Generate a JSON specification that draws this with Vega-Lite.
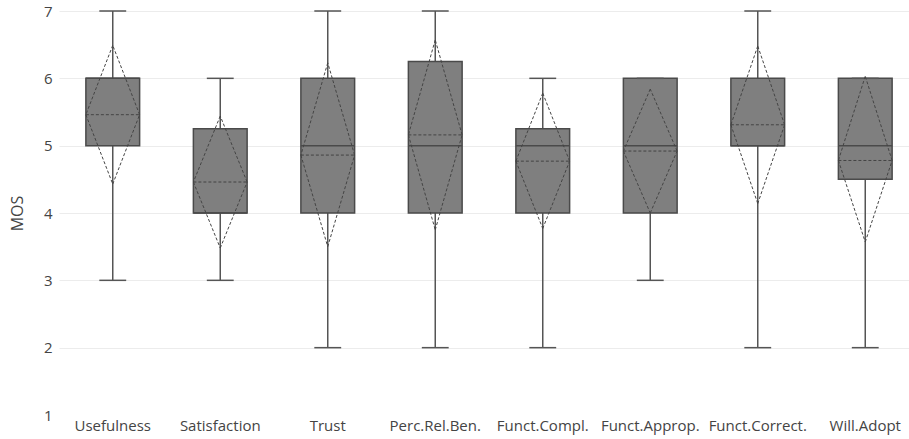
{
  "$schema": "https://vega.github.io/schema/vega-lite/v6.json",
  "autosize": {"type": "none"},
  "width": 850,
  "height": 404,
  "padding": {"left": 59, "top": 11, "right": 0, "bottom": 24},
  "background": "white",
  "config": {
    "view": {"stroke": null},
    "font": "Open Sans",
    "axis": {"labelFont": "Open Sans", "titleFont": "Open Sans", "labelColor": "#444", "titleColor": "#444"}
  },
  "data": {
    "values": [
      {"cat": "Usefulness", "lo": 3, "q1": 5, "med": 6, "q3": 6, "hi": 7, "mean": 5.46, "sdlo": 4.43, "sdhi": 6.49},
      {"cat": "Satisfaction", "lo": 3, "q1": 4, "med": 4, "q3": 5.25, "hi": 6, "mean": 4.46, "sdlo": 3.48, "sdhi": 5.44},
      {"cat": "Trust", "lo": 2, "q1": 4, "med": 5, "q3": 6, "hi": 7, "mean": 4.86, "sdlo": 3.5, "sdhi": 6.23},
      {"cat": "Perc.Rel.Ben.", "lo": 2, "q1": 4, "med": 5, "q3": 6.25, "hi": 7, "mean": 5.16, "sdlo": 3.75, "sdhi": 6.57},
      {"cat": "Funct.Compl.", "lo": 2, "q1": 4, "med": 5, "q3": 5.25, "hi": 6, "mean": 4.77, "sdlo": 3.77, "sdhi": 5.78},
      {"cat": "Funct.Approp.", "lo": 3, "q1": 4, "med": 5, "q3": 6, "hi": 6, "mean": 4.92, "sdlo": 4.0, "sdhi": 5.84},
      {"cat": "Funct.Correct.", "lo": 2, "q1": 5, "med": 5, "q3": 6, "hi": 7, "mean": 5.31, "sdlo": 4.14, "sdhi": 6.48},
      {"cat": "Will.Adopt", "lo": 2, "q1": 4.5, "med": 5, "q3": 6, "hi": 6, "mean": 4.78, "sdlo": 3.57, "sdhi": 6.03}
    ]
  },
  "encoding": {
    "x": {
      "field": "cat", "type": "nominal", "sort": null,
      "scale": {"type": "band", "paddingInner": 0, "paddingOuter": 0, "range": [0, 860]},
      "axis": {"title": null, "labelAngle": 0, "domain": false, "ticks": false, "grid": false, "labelFontSize": 15, "labelPadding": 3}
    }
  },
  "layer": [
    {
      "mark": {"type": "rule", "color": "#555", "strokeWidth": 1.5},
      "encoding": {
        "y": {"field": "lo", "type": "quantitative",
          "scale": {"domain": [1, 7], "nice": false, "zero": false},
          "axis": {"title": "MOS", "values": [1, 2, 3, 4, 5, 6, 7], "format": "d", "domain": false, "ticks": false,
            "gridColor": {"condition": {"test": "datum.value == 1", "value": "transparent"}, "value": "#ececec"},
            "gridWidth": 1, "labelFontSize": 15, "labelPadding": 7, "titleFontSize": 16, "titleFontWeight": "normal", "titlePadding": 18}},
        "y2": {"field": "hi"}
      }
    },
    {
      "mark": {"type": "bar", "width": {"band": 0.5}, "color": "#7f7f7f", "stroke": "#4a4a4a", "strokeWidth": 1.5},
      "encoding": {"y": {"field": "q1", "type": "quantitative"}, "y2": {"field": "q3"}}
    },
    {
      "mark": {"type": "rule", "color": "#555", "strokeWidth": 1.5},
      "encoding": {"x": {"field": "cat", "type": "nominal", "sort": null, "bandPosition": 0.375}, "x2": {"field": "cat", "bandPosition": 0.625}, "y": {"field": "lo", "type": "quantitative"}}
    },
    {
      "mark": {"type": "rule", "color": "#555", "strokeWidth": 1.5},
      "encoding": {"x": {"field": "cat", "type": "nominal", "sort": null, "bandPosition": 0.375}, "x2": {"field": "cat", "bandPosition": 0.625}, "y": {"field": "hi", "type": "quantitative"}}
    },
    {
      "mark": {"type": "rule", "color": "#4a4a4a", "strokeWidth": 1.5},
      "encoding": {"x": {"field": "cat", "type": "nominal", "sort": null, "bandPosition": 0.25}, "x2": {"field": "cat", "bandPosition": 0.75}, "y": {"field": "med", "type": "quantitative"}}
    },
    {
      "mark": {"type": "rule", "color": "#444", "strokeWidth": 1, "strokeDash": [3, 2]},
      "encoding": {"x": {"field": "cat", "type": "nominal", "sort": null, "bandPosition": 0.25}, "x2": {"field": "cat", "bandPosition": 0.75}, "y": {"field": "mean", "type": "quantitative"}}
    },
    {
      "mark": {"type": "rule", "color": "#444", "strokeWidth": 1, "strokeDash": [3, 2]},
      "encoding": {"x": {"field": "cat", "type": "nominal", "sort": null, "bandPosition": 0.5}, "x2": {"field": "cat", "bandPosition": 0.75}, "y": {"field": "sdlo", "type": "quantitative"}, "y2": {"field": "mean"}}
    },
    {
      "mark": {"type": "rule", "color": "#444", "strokeWidth": 1, "strokeDash": [3, 2]},
      "encoding": {"x": {"field": "cat", "type": "nominal", "sort": null, "bandPosition": 0.75}, "x2": {"field": "cat", "bandPosition": 0.5}, "y": {"field": "mean", "type": "quantitative"}, "y2": {"field": "sdhi"}}
    },
    {
      "mark": {"type": "rule", "color": "#444", "strokeWidth": 1, "strokeDash": [3, 2]},
      "encoding": {"x": {"field": "cat", "type": "nominal", "sort": null, "bandPosition": 0.5}, "x2": {"field": "cat", "bandPosition": 0.25}, "y": {"field": "sdhi", "type": "quantitative"}, "y2": {"field": "mean"}}
    },
    {
      "mark": {"type": "rule", "color": "#444", "strokeWidth": 1, "strokeDash": [3, 2]},
      "encoding": {"x": {"field": "cat", "type": "nominal", "sort": null, "bandPosition": 0.25}, "x2": {"field": "cat", "bandPosition": 0.5}, "y": {"field": "mean", "type": "quantitative"}, "y2": {"field": "sdlo"}}
    }
  ]
}
